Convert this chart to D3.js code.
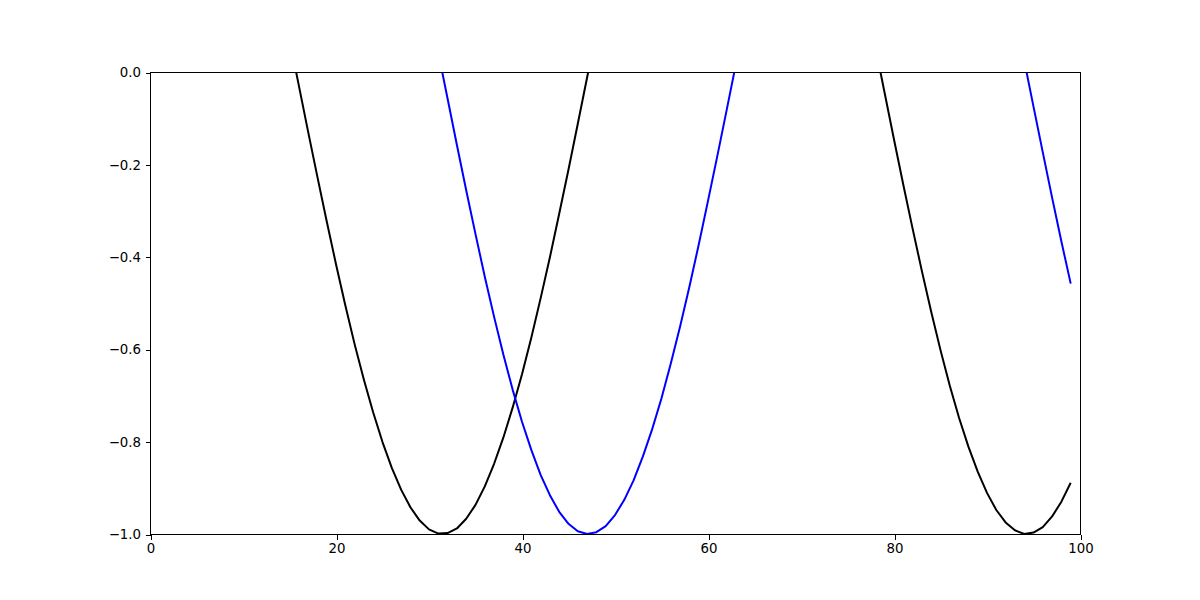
<!DOCTYPE html>
<html>
<head>
<meta charset="utf-8">
<script src="https://cdn.jsdelivr.net/npm/d3@7"></script>
<style>
  body { margin: 0; background: #fff; }
  svg { display: block; }
  .tick text { font-family: "DejaVu Sans", sans-serif; font-size: 13.33px; fill: #000; }
</style>
</head>
<body>
<svg id="chart"></svg>
<script>
// values, x = 0..99
const xs = d3.range(0, 100);

const blackValues = [
  1.000, 0.995, 0.980, 0.955, 0.921, 0.878, 0.825, 0.765, 0.697, 0.622,
  0.540, 0.454, 0.362, 0.268, 0.170, 0.071, -0.029, -0.129, -0.227, -0.323,
  -0.416, -0.505, -0.589, -0.666, -0.737, -0.801, -0.857, -0.904, -0.942, -0.971,
  -0.990, -0.999, -0.998, -0.988, -0.967, -0.937, -0.897, -0.848, -0.791, -0.726,
  -0.654, -0.575, -0.490, -0.401, -0.307, -0.211, -0.112, -0.012, 0.088, 0.187,
  0.284, 0.378, 0.469, 0.554, 0.635, 0.709, 0.776, 0.835, 0.886, 0.928,
  0.960, 0.983, 0.997, 1.000, 0.993, 0.977, 0.950, 0.914, 0.870, 0.816,
  0.754, 0.685, 0.608, 0.526, 0.439, 0.347, 0.251, 0.153, 0.054, -0.046,
  -0.146, -0.244, -0.339, -0.431, -0.519, -0.602, -0.679, -0.749, -0.811, -0.865,
  -0.911, -0.948, -0.975, -0.992, -1.000, -0.997, -0.985, -0.962, -0.930, -0.889
];

const blueValues = [
  0.000, 0.100, 0.199, 0.296, 0.389, 0.479, 0.565, 0.644, 0.717, 0.783,
  0.842, 0.891, 0.932, 0.964, 0.985, 0.998, 1.000, 0.992, 0.974, 0.946,
  0.909, 0.863, 0.808, 0.746, 0.676, 0.598, 0.516, 0.427, 0.335, 0.239,
  0.141, 0.042, -0.058, -0.158, -0.256, -0.351, -0.443, -0.530, -0.612, -0.688,
  -0.757, -0.818, -0.872, -0.916, -0.952, -0.978, -0.994, -1.000, -0.996, -0.983,
  -0.959, -0.926, -0.884, -0.832, -0.773, -0.706, -0.631, -0.551, -0.465, -0.374,
  -0.279, -0.182, -0.083, 0.017, 0.117, 0.215, 0.312, 0.405, 0.494, 0.578,
  0.657, 0.729, 0.794, 0.850, 0.899, 0.938, 0.968, 0.988, 0.999, 0.999,
  0.989, 0.970, 0.941, 0.902, 0.855, 0.799, 0.734, 0.663, 0.585, 0.501,
  0.412, 0.319, 0.223, 0.125, 0.025, -0.075, -0.174, -0.272, -0.367, -0.458
];

const xTicks = [0, 20, 40, 60, 80, 100];
const yTicks = [-1.0, -0.8, -0.6, -0.4, -0.2, 0.0];

const width = 1200, height = 600;
const margin = {left: 150, right: 120, top: 72, bottom: 66};

const svg = d3.select("#chart")
    .attr("width", width)
    .attr("height", height);

const x = d3.scaleLinear().domain([0, 100]).range([margin.left, width - margin.right]);
const y = d3.scaleLinear().domain([-1, 0]).range([height - margin.bottom, margin.top]);

svg.append("defs").append("clipPath").attr("id", "clip")
    .append("rect")
    .attr("x", x(0)).attr("y", y(0))
    .attr("width", x(100) - x(0))
    .attr("height", y(-1) - y(0));

const line = d3.line().x(d => x(d[0])).y(d => y(d[1]));

const series = [
    {values: blackValues, color: "#000000"},
    {values: blueValues, color: "#0000ff"}
];

const plot = svg.append("g").attr("clip-path", "url(#clip)");
series.forEach(function (s) {
    plot.append("path")
        .datum(xs.map((xv, i) => [xv, s.values[i]]))
        .attr("fill", "none")
        .attr("stroke", s.color)
        .attr("stroke-width", 2)
        .attr("stroke-linejoin", "round")
        .attr("d", line);
});

// axes (offset half a pixel so the 1px lines stay crisp)
const xAxis = svg.append("g")
    .attr("transform", "translate(0.5," + (y(-1) + 0.5) + ")")
    .call(d3.axisBottom(x).tickValues(xTicks).tickSize(5).tickPadding(4.5).tickFormat(d3.format("d")));
const yAxis = svg.append("g")
    .attr("transform", "translate(" + (x(0) + 0.5) + ",0.5)")
    .call(d3.axisLeft(y).tickValues(yTicks).tickSize(5).tickPadding(4.5).tickFormat(d3.format(".1f")));

[xAxis, yAxis].forEach(function (a) {
    a.select(".domain").remove();
    a.selectAll(".tick line").attr("stroke", "#000").attr("stroke-width", 1).attr("shape-rendering", "crispEdges");
});

// frame
svg.append("rect")
    .attr("x", x(0) + 0.5).attr("y", y(0) + 0.5)
    .attr("width", x(100) - x(0))
    .attr("height", y(-1) - y(0))
    .attr("fill", "none")
    .attr("stroke", "#000")
    .attr("stroke-width", 1)
    .attr("shape-rendering", "crispEdges");
</script>
</body>
</html>
